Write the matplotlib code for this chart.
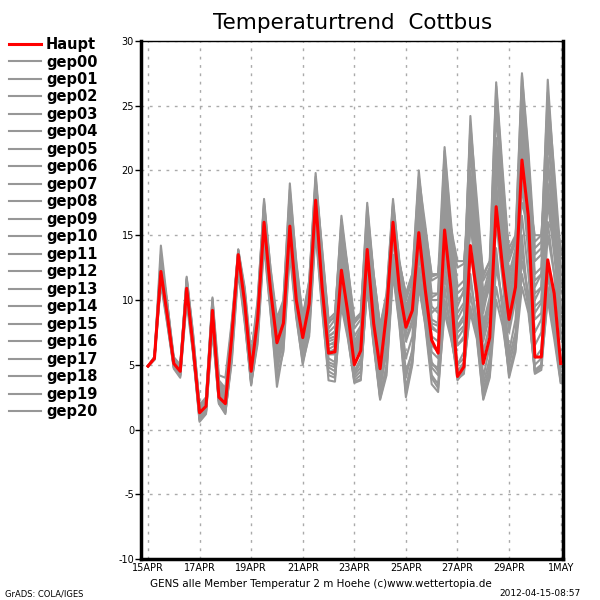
import matplotlib
matplotlib.use("Agg")
import numpy as np
import pandas as pd
import matplotlib.pyplot as plt

# =========================================================
# Données (lues sur l'image, pas de 6 h depuis le 15 avril)
# =========================================================

debut = "2012-04-15 00:00"
nb_pas = 65

haupt = [4.9, 5.5, 12.2, 8.8, 5.1, 4.5, 10.9, 6.4, 1.3, 1.8, 9.2, 2.5,
         2.0, 7.2, 13.5, 9.8, 4.5, 8.5, 16.0, 10.8, 6.7, 8.2, 15.7, 10.0,
         7.1, 9.7, 17.7, 11.0, 5.9, 6.0, 12.3, 9.0, 5.0, 6.1, 13.9, 8.2,
         4.7, 9.0, 16.0, 10.8, 7.9, 9.2, 15.2, 10.8, 6.9, 5.9, 15.4, 10.8,
         4.1, 4.85, 14.2, 10.5, 5.1, 7.1, 17.2, 12.5, 8.5, 11.0, 20.8, 16.4,
         5.6, 5.6, 13.1, 10.5, 5.1]

gep00 = [4.9, 5.5, 12.8, 9.2, 5.2, 4.6, 11.2, 6.8, 1.5, 2.0, 9.6, 3.0,
         2.4, 7.6, 13.6, 10.2, 4.8, 8.9, 16.5, 11.2, 7.0, 8.6, 16.4, 10.8,
         7.5, 10.0, 18.3, 12.0, 6.5, 6.8, 13.5, 10.0, 5.8, 7.0, 15.0, 9.5,
         5.5, 9.6, 16.8, 11.5, 8.5, 10.2, 17.0, 12.0, 8.0, 7.5, 17.5, 12.5,
         6.5, 7.0, 18.0, 13.0, 7.5, 9.5, 21.0, 15.0, 10.0, 12.5, 23.5, 17.0,
         8.5, 9.0, 18.0, 14.0, 8.0]
gep01 = [4.9, 5.4, 11.5, 8.4, 4.9, 4.2, 10.4, 6.0, 0.8, 1.4, 8.5, 2.2,
         1.6, 6.5, 12.8, 9.0, 3.8, 7.5, 15.0, 10.0, 5.5, 7.2, 14.5, 9.2,
         6.2, 8.5, 16.2, 10.0, 4.8, 4.5, 10.5, 7.8, 4.0, 4.5, 12.0, 7.0,
         3.2, 6.0, 13.5, 9.0, 4.5, 6.0, 12.5, 8.5, 4.2, 3.5, 11.0, 7.5,
         3.8, 4.5, 10.5, 7.5, 3.0, 5.0, 13.0, 9.5, 5.0, 7.0, 14.0, 10.0,
         4.5, 5.0, 11.0, 8.0, 4.0]
gep02 = [4.9, 5.6, 13.5, 9.6, 5.4, 4.8, 11.5, 7.0, 1.6, 2.2, 9.8, 3.5,
         2.8, 7.8, 13.8, 10.5, 5.2, 9.2, 17.2, 11.8, 7.8, 9.2, 17.5, 11.5,
         8.0, 10.5, 19.0, 13.0, 7.2, 7.5, 15.0, 10.8, 6.5, 7.5, 16.2, 10.5,
         6.2, 9.8, 17.2, 12.0, 9.0, 11.0, 18.8, 13.5, 9.5, 9.0, 20.0, 14.5,
         8.5, 9.5, 22.0, 15.5, 9.0, 11.5, 25.0, 18.0, 11.5, 13.5, 26.5, 20.0,
         12.0, 12.5, 24.0, 17.0, 11.0]
gep03 = [4.9, 5.5, 12.0, 8.6, 5.0, 4.4, 10.6, 6.2, 1.0, 1.6, 8.8, 2.4,
         1.8, 7.0, 13.2, 9.5, 4.2, 8.0, 15.5, 10.5, 6.2, 7.8, 15.0, 9.8,
         6.8, 9.2, 17.0, 10.8, 5.5, 5.2, 11.5, 8.5, 4.5, 5.5, 13.0, 8.0,
         4.0, 8.2, 15.2, 10.2, 6.8, 8.2, 14.0, 10.0, 6.0, 5.5, 14.0, 10.0,
         5.0, 6.0, 16.0, 11.5, 6.0, 8.0, 18.5, 13.0, 8.0, 10.5, 19.5, 14.5,
         6.5, 7.5, 15.0, 12.0, 7.0]
gep04 = [4.9, 5.5, 12.5, 9.0, 5.3, 4.7, 11.0, 6.6, 1.4, 1.9, 9.4, 2.8,
         2.2, 7.4, 13.4, 10.0, 4.6, 8.6, 16.2, 11.0, 7.2, 8.5, 16.0, 11.2,
         8.2, 10.8, 18.5, 12.5, 7.8, 8.5, 14.2, 11.5, 7.8, 8.5, 15.5, 11.5,
         7.5, 10.2, 16.5, 12.5, 10.0, 11.5, 17.5, 14.5, 11.5, 11.8, 18.5, 15.0,
         12.5, 12.8, 19.5, 16.5, 11.5, 12.5, 22.0, 18.5, 13.5, 14.5, 24.0, 19.0,
         14.5, 15.0, 22.0, 18.5, 13.5]
gep05 = [4.9, 5.4, 11.8, 8.3, 4.8, 4.1, 10.2, 5.9, 0.6, 1.2, 7.8, 2.0,
         1.3, 5.5, 12.5, 8.4, 3.4, 7.0, 14.5, 9.2, 3.3, 6.2, 14.0, 8.8,
         5.0, 7.5, 15.5, 9.5, 3.8, 3.7, 10.0, 7.2, 3.6, 3.8, 11.5, 6.8,
         2.4, 4.5, 12.5, 8.2, 2.8, 5.2, 11.5, 8.0, 3.5, 2.9, 9.5, 7.2,
         4.2, 4.5, 9.5, 7.2, 2.4, 4.2, 11.0, 8.5, 4.2, 6.5, 12.0, 9.5,
         4.3, 4.6, 10.5, 7.5, 3.7]
gep06 = [4.9, 5.6, 13.0, 9.4, 5.5, 4.9, 11.6, 7.2, 1.8, 2.4, 10.0, 3.8,
         3.2, 8.0, 13.7, 10.8, 5.6, 9.5, 17.6, 12.0, 8.2, 9.6, 18.0, 12.2,
         8.5, 11.0, 19.5, 13.5, 8.2, 8.8, 16.2, 12.0, 8.2, 8.8, 17.2, 11.8,
         7.8, 10.4, 17.5, 13.0, 10.2, 11.8, 20.0, 15.0, 10.5, 10.5, 21.5, 15.5,
         10.0, 10.5, 24.2, 17.0, 10.5, 12.5, 26.5, 19.5, 13.0, 14.5, 27.3, 21.0,
         13.0, 13.5, 27.0, 19.5, 12.5]
gep07 = [4.9, 5.5, 12.4, 8.9, 5.1, 4.5, 10.8, 6.5, 1.3, 1.8, 9.0, 2.6,
         2.0, 7.2, 13.5, 9.9, 4.5, 8.4, 16.0, 10.6, 6.5, 8.0, 15.5, 10.2,
         7.2, 9.6, 17.5, 11.2, 6.0, 6.2, 12.5, 9.5, 5.5, 6.5, 14.2, 8.8,
         5.0, 9.0, 16.2, 11.0, 7.5, 9.0, 15.5, 11.5, 7.2, 6.8, 15.5, 12.0,
         7.5, 8.0, 17.0, 12.5, 6.8, 8.8, 19.0, 14.0, 9.2, 11.5, 21.0, 16.0,
         9.5, 10.0, 17.5, 13.5, 9.0]
gep08 = [4.9, 5.5, 12.0, 9.0, 5.0, 4.6, 11.0, 6.8, 1.2, 2.0, 9.5, 3.2,
         2.5, 7.9, 13.0, 10.5, 5.0, 9.0, 15.2, 11.5, 7.5, 9.0, 14.8, 11.0,
         7.8, 10.2, 16.5, 12.2, 7.0, 7.2, 13.0, 10.5, 6.2, 7.5, 14.5, 10.2,
         6.5, 9.5, 14.5, 11.8, 8.8, 10.5, 16.0, 12.8, 9.0, 9.5, 16.0, 13.5,
         9.5, 10.8, 15.5, 14.0, 9.8, 11.5, 17.5, 15.5, 11.5, 13.0, 17.5, 15.5,
         11.0, 12.0, 16.0, 15.0, 11.5]
gep09 = [4.9, 5.5, 12.6, 8.7, 5.0, 4.4, 10.7, 6.3, 1.1, 1.7, 8.9, 2.3,
         1.7, 6.8, 12.9, 9.4, 4.0, 7.8, 15.7, 10.4, 5.8, 7.5, 15.2, 9.5,
         6.5, 9.0, 16.8, 10.5, 5.2, 5.0, 11.0, 8.2, 4.3, 5.2, 13.5, 7.5,
         3.6, 7.5, 15.0, 9.5, 5.5, 7.2, 13.5, 9.5, 5.2, 4.5, 13.0, 9.0,
         4.5, 5.2, 14.0, 9.8, 4.0, 6.5, 16.0, 11.5, 6.0, 8.5, 16.5, 12.0,
         5.5, 6.2, 13.0, 9.5, 5.5]
gep10 = [4.9, 5.5, 14.2, 9.8, 5.3, 4.8, 11.8, 7.4, 1.7, 2.3, 10.1, 3.4,
         2.7, 7.6, 13.9, 10.6, 5.4, 9.8, 17.8, 12.4, 8.0, 9.8, 19.0, 12.8,
         8.6, 11.4, 19.8, 13.8, 8.4, 8.6, 16.5, 12.4, 8.4, 8.9, 17.5, 12.0,
         8.0, 10.5, 17.8, 12.8, 10.4, 12.0, 19.5, 15.8, 11.8, 12.0, 21.8, 16.0,
         11.0, 11.5, 23.5, 17.8, 11.8, 13.0, 26.8, 20.0, 13.5, 14.8, 27.5, 21.5,
         14.0, 14.5, 26.0, 20.0, 13.5]
gep11 = [4.9, 5.4, 11.2, 8.1, 4.7, 4.0, 9.8, 5.8, 0.7, 1.3, 7.6, 2.1,
         1.4, 5.2, 12.2, 8.2, 3.6, 6.6, 14.2, 9.0, 4.0, 6.0, 13.5, 8.6,
         5.2, 7.2, 15.2, 9.2, 4.2, 4.0, 9.5, 7.0, 3.8, 4.2, 11.0, 6.5,
         2.3, 4.2, 12.0, 8.0, 2.5, 5.0, 11.0, 8.2, 4.0, 3.2, 9.0, 7.0,
         4.5, 5.0, 9.0, 7.0, 2.3, 4.0, 10.0, 8.0, 4.5, 6.2, 11.0, 9.0,
         4.6, 5.0, 10.0, 7.0, 3.6]
gep12 = [4.9, 5.6, 12.9, 9.3, 5.4, 4.8, 11.4, 6.9, 1.6, 2.1, 9.7, 3.6,
         3.0, 8.2, 13.8, 10.4, 5.3, 9.4, 17.0, 11.6, 7.6, 9.2, 17.2, 11.8,
         8.3, 10.6, 18.8, 12.8, 7.5, 8.0, 14.8, 11.2, 7.2, 8.0, 16.0, 10.8,
         6.8, 9.6, 16.8, 12.2, 9.2, 10.8, 18.5, 14.0, 10.0, 10.0, 19.5, 14.2,
         9.0, 9.8, 21.5, 15.8, 9.5, 11.0, 24.5, 17.5, 11.0, 13.0, 25.5, 18.5,
         11.5, 12.0, 23.0, 16.5, 10.5]
gep13 = [4.9, 5.5, 11.9, 8.5, 4.9, 4.3, 10.5, 6.1, 1.0, 1.5, 8.2, 2.2,
         1.5, 6.2, 13.0, 8.8, 3.5, 7.2, 14.8, 9.5, 4.5, 6.8, 14.2, 9.0,
         5.5, 8.0, 15.8, 9.8, 4.5, 4.2, 10.2, 7.5, 3.7, 3.9, 11.2, 6.6,
         2.6, 5.0, 12.2, 8.5, 3.2, 5.5, 11.2, 8.8, 4.8, 4.2, 10.0, 8.0,
         5.0, 5.5, 11.5, 8.5, 3.5, 5.5, 12.5, 10.0, 5.5, 7.5, 13.0, 10.5,
         5.0, 5.5, 12.5, 9.0, 4.5]
gep14 = [4.9, 5.5, 12.7, 9.1, 5.2, 4.6, 11.1, 6.7, 1.4, 1.9, 9.3, 2.9,
         2.3, 7.7, 13.6, 10.1, 4.9, 8.8, 16.8, 11.3, 7.1, 8.8, 16.8, 11.0,
         7.7, 10.3, 18.0, 12.2, 6.8, 7.0, 14.0, 10.2, 6.0, 7.2, 15.2, 10.0,
         6.0, 9.3, 17.0, 11.8, 8.8, 10.0, 17.8, 13.0, 8.5, 8.2, 18.5, 13.5,
         7.8, 8.5, 19.5, 14.5, 8.2, 10.2, 22.5, 16.5, 10.5, 12.5, 23.0, 17.0,
         10.0, 11.0, 21.0, 15.5, 9.5]
gep15 = [4.9, 5.6, 13.2, 9.7, 5.6, 5.0, 11.7, 7.3, 1.9, 2.5, 10.2, 4.2,
         4.0, 8.4, 13.9, 11.0, 5.8, 10.0, 17.4, 12.5, 8.6, 10.0, 18.5, 13.0,
         8.7, 11.5, 19.2, 14.0, 8.5, 9.0, 15.5, 12.5, 8.5, 9.0, 16.5, 12.0,
         8.0, 10.0, 16.0, 12.8, 10.5, 12.0, 17.0, 15.5, 12.0, 12.0, 17.5, 15.5,
         13.0, 13.0, 18.0, 16.5, 12.0, 13.0, 19.5, 17.5, 14.0, 15.0, 21.0, 18.0,
         15.0, 15.0, 20.0, 17.5, 14.0]
gep16 = [4.9, 5.4, 11.6, 8.2, 4.8, 4.2, 10.3, 6.0, 0.9, 1.4, 8.0, 2.0,
         1.2, 5.8, 12.6, 8.6, 3.7, 7.2, 15.2, 9.8, 5.0, 7.0, 14.8, 9.0,
         6.0, 8.2, 16.0, 10.2, 5.0, 4.8, 11.0, 7.8, 4.2, 4.8, 12.2, 7.2,
         3.0, 6.5, 13.0, 8.8, 4.0, 6.2, 12.0, 9.0, 5.0, 4.8, 12.0, 8.5,
         3.9, 4.3, 12.0, 8.0, 2.8, 4.5, 14.0, 9.0, 4.0, 6.0, 15.0, 9.5,
         4.4, 4.8, 12.0, 8.5, 3.8]
gep17 = [4.9, 5.5, 12.3, 8.9, 5.1, 4.5, 10.9, 6.4, 1.3, 1.8, 9.1, 2.7,
         2.1, 7.3, 13.4, 9.7, 4.4, 8.3, 16.3, 10.7, 6.6, 8.2, 16.2, 10.4,
         7.3, 9.8, 17.2, 11.5, 6.2, 6.5, 13.0, 9.8, 5.8, 6.8, 14.8, 9.2,
         5.2, 8.8, 15.8, 11.2, 8.0, 9.5, 16.5, 12.2, 7.8, 7.5, 16.8, 13.0,
         8.0, 8.8, 18.5, 13.5, 7.2, 9.5, 20.5, 15.0, 9.5, 12.0, 22.0, 16.8,
         9.0, 9.8, 19.0, 14.5, 8.5]
gep18 = [4.9, 5.5, 12.1, 8.8, 5.0, 4.5, 10.8, 6.6, 1.3, 2.0, 9.3, 3.0,
         2.6, 7.5, 13.2, 10.3, 5.0, 8.9, 16.6, 11.2, 7.3, 8.9, 16.6, 11.4,
         7.9, 10.0, 18.2, 12.6, 7.2, 7.6, 14.5, 10.8, 6.8, 7.8, 16.5, 11.0,
         7.0, 9.8, 17.3, 12.5, 9.5, 11.0, 19.0, 14.8, 10.2, 10.5, 20.5, 15.2,
         10.5, 11.0, 23.0, 16.5, 10.0, 12.0, 25.5, 19.0, 12.0, 14.0, 26.0, 20.5,
         13.5, 14.0, 25.0, 19.0, 12.0]
gep19 = [4.9, 5.5, 12.2, 8.7, 5.1, 4.5, 10.6, 6.2, 1.2, 1.7, 8.7, 2.4,
         1.9, 7.0, 13.3, 9.6, 4.3, 8.2, 15.8, 10.3, 6.0, 7.9, 15.8, 10.0,
         7.0, 9.4, 17.6, 11.0, 5.8, 5.8, 12.0, 8.8, 5.0, 6.0, 13.5, 8.5,
         4.5, 8.5, 15.5, 10.5, 7.0, 8.5, 14.8, 10.5, 6.5, 6.0, 15.0, 11.0,
         6.5, 7.2, 16.5, 11.0, 5.8, 8.0, 18.0, 12.5, 7.5, 10.0, 19.0, 13.5,
         7.5, 8.5, 16.0, 12.0, 7.5]
gep20 = [4.9, 5.5, 12.6, 9.0, 5.2, 4.6, 11.1, 6.7, 1.5, 2.1, 9.5, 3.1,
         2.4, 7.5, 13.5, 10.0, 4.7, 8.7, 16.4, 11.0, 6.9, 8.6, 16.3, 10.6,
         7.6, 10.0, 18.6, 11.8, 6.6, 6.6, 13.8, 9.6, 6.0, 6.9, 14.6, 9.6,
         5.8, 9.2, 16.5, 11.5, 8.2, 9.8, 16.2, 12.5, 8.2, 8.0, 17.0, 12.8,
         7.0, 7.8, 20.0, 14.0, 7.8, 9.8, 21.5, 16.0, 9.8, 12.0, 24.5, 17.5,
         10.5, 11.0, 20.5, 15.0, 9.0]

membres = [gep00, gep01, gep02, gep03, gep04, gep05, gep06, gep07, gep08,
           gep09, gep10, gep11, gep12, gep13, gep14, gep15, gep16, gep17,
           gep18, gep19, gep20]
noms_membres = ["gep%02d" % i for i in range(21)]

dates_ticks = ["2012-04-15", "2012-04-17", "2012-04-19", "2012-04-21",
               "2012-04-23", "2012-04-25", "2012-04-27", "2012-04-29",
               "2012-05-01"]
labels_ticks = ["15APR", "17APR", "19APR", "21APR", "23APR", "25APR",
                "27APR", "29APR", "1MAY"]
y_ticks = [-10, -5, 0, 5, 10, 15, 20, 25, 30]

# =========================================================
# Graphique
# =========================================================

temps = pd.date_range(debut, periods=nb_pas, freq="6h")

fig = plt.figure(figsize=(6, 6), dpi=100)
ax = fig.add_axes([0.235, 0.068, 0.703, 0.864])

gris = "#979797"
for nom, serie in zip(noms_membres, membres):
    ax.plot(temps, serie, color=gris, linewidth=1.5, label=nom, zorder=2)

ligne_haupt, = ax.plot(temps, haupt, color="#ff0000", linewidth=2.2,
                       label="Haupt", zorder=3)

ax.set_ylim(-10, 30)
ax.set_xlim(pd.Timestamp("2012-04-15") - pd.Timedelta(hours=6.5),
            pd.Timestamp("2012-05-01") + pd.Timedelta(hours=2))

ax.set_yticks(y_ticks)
ax.set_yticklabels([str(v) for v in y_ticks], fontsize=7)
ax.set_xticks(pd.to_datetime(dates_ticks))
ax.set_xticklabels(labels_ticks, fontsize=7)
ax.tick_params(axis="y", direction="out", length=4, width=1, pad=1)
ax.tick_params(axis="x", direction="out", length=0, pad=3)

ax.grid(True, color="#aaaaaa", linestyle=(0, (2, 4)), linewidth=1)
ax.set_axisbelow(True)

for cote in ["left", "bottom", "right"]:
    ax.spines[cote].set_linewidth(2.5)
ax.spines["top"].set_linewidth(1.0)

# Titre
fig.text(0.587, 0.962, "Temperaturtrend  Cottbus", ha="center", va="center",
         fontsize=15.5)

# Légende à gauche
handles = [ligne_haupt] + ax.get_lines()[:21]
labels = ["Haupt"] + noms_membres
leg = fig.legend(handles, labels, loc="upper left",
                 bbox_to_anchor=(0.005, 0.948), frameon=False,
                 fontsize=10.5, handlelength=2.2, handletextpad=0.35,
                 labelspacing=0.17, borderaxespad=0)
for t in leg.get_texts():
    t.set_fontweight("bold")

# Textes du bas
fig.text(0.535, 0.027, "GENS alle Member Temperatur 2 m Hoehe (c)www.wettertopia.de",
         ha="center", va="center", fontsize=7.5)
fig.text(0.008, 0.01, "GrADS: COLA/IGES", ha="left", va="center", fontsize=6)
fig.text(0.968, 0.01, "2012-04-15-08:57", ha="right", va="center", fontsize=6.5)

fig.savefig("out.png", dpi=100)
